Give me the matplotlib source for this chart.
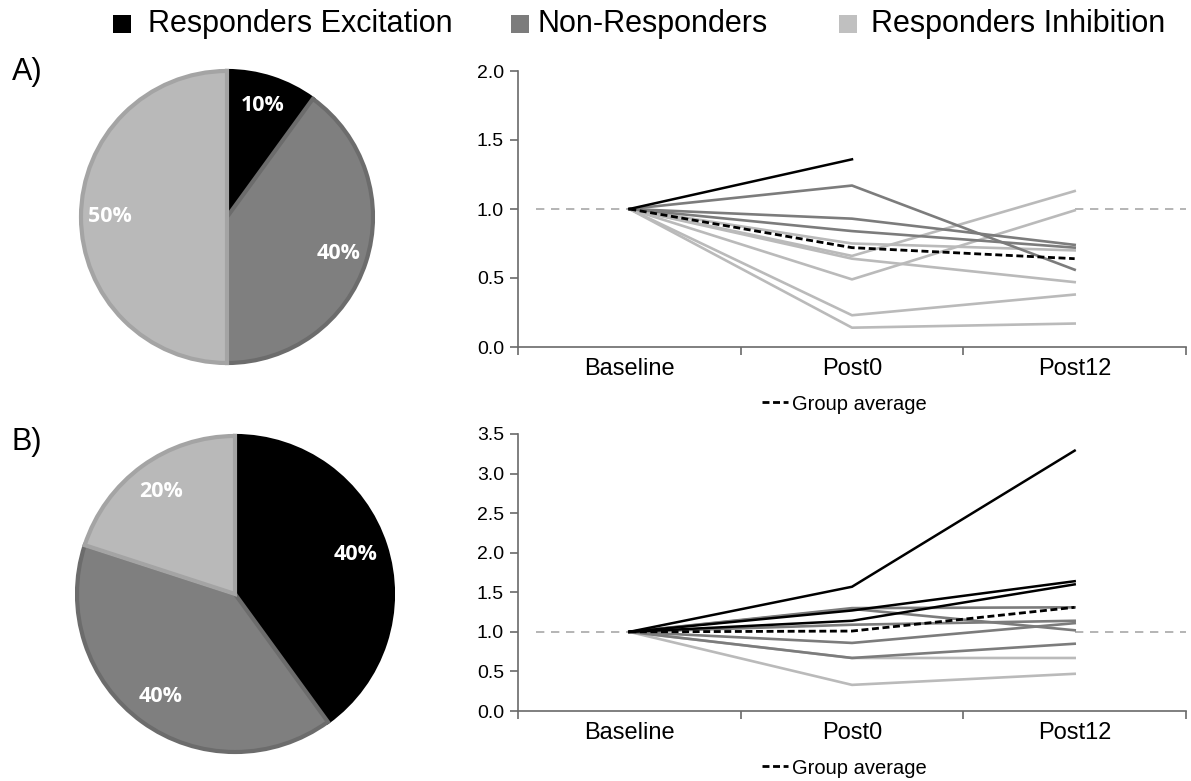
import numpy as np
import matplotlib
matplotlib.use("Agg")
import matplotlib.pyplot as plt
from matplotlib.patches import Rectangle
from matplotlib.lines import Line2D

# ---------------- data ----------------
groups = ["Responders Excitation", "Non-Responders", "Responders Inhibition"]
pie_a = [10, 40, 50]
pie_b = [40, 40, 20]
timepoints = ["Baseline", "Post0", "Post12"]

exc_a = [[1.0, 1.36, np.nan]]
non_a = [[1.0, 1.17, 0.56], [1.0, 0.93, 0.74], [1.0, 0.84, 0.72]]
inh_a = [[1.0, 0.75, 0.70], [1.0, 0.66, 1.13], [1.0, 0.64, 0.47],
         [1.0, 0.49, 0.99], [1.0, 0.23, 0.38], [1.0, 0.14, 0.17]]
avg_a = [1.0, 0.72, 0.64]

exc_b = [[1.0, 1.57, 3.29], [1.0, 1.27, 1.64], [1.0, 1.14, 1.60]]
non_b = [[1.0, 1.30, 1.31], [1.0, 1.29, 1.02], [1.0, 1.09, 1.14],
         [1.0, 0.86, 1.11], [1.0, 0.67, 0.85]]
inh_b = [[1.0, 0.67, 0.67], [1.0, 0.33, 0.47]]
avg_b = [1.0, 1.01, 1.31]

ref_level = 1.0
yticks_a = [0.0, 0.5, 1.0, 1.5, 2.0]
yticks_b = [0.0, 0.5, 1.0, 1.5, 2.0, 2.5, 3.0, 3.5]

# ---------------- style ----------------
W, H = 1191, 781
C_BLACK = "#000000"
C_DARK = "#7c7c7c"
C_LIGHT = "#bababa"
PIE_COLORS = ["#000000", "#7f7f7f", "#b9b9b9"]
PIE_EDGES = ["#000000", "#6c6c6c", "#a4a4a4"]
SPINE = "#6a6a6a"
SANS = "Liberation Sans"

fig = plt.figure(figsize=(W / 100, H / 100), dpi=100)
fig.patch.set_facecolor("white")


def fx(px):
    return px / W


def fy(py):
    return 1 - py / H


# ---------------- legend (top) ----------------
legend_items = [
    (113, 148, PIE_COLORS[0], groups[0]),
    (511, 538, C_DARK, groups[1]),
    (839, 871, "#c0c0c0", groups[2]),
]
for sq_x, tx, col, lab in legend_items:
    fig.patches.append(Rectangle((fx(sq_x), fy(33)), fx(18), 18 / H,
                                 transform=fig.transFigure, facecolor=col,
                                 edgecolor="none"))
    fig.text(fx(tx), fy(24), lab, fontsize=22, family=SANS,
             va="center", ha="left")

fig.text(fx(12), fy(72), "A)", fontsize=22, family=SANS, va="center", ha="left")
fig.text(fx(12), fy(442), "B)", fontsize=22, family=SANS, va="center", ha="left")


# ---------------- pies ----------------
def draw_pie(cx, cy, r, values):
    size = 2.5 * r
    ax = fig.add_axes([fx(cx - size / 2), fy(cy + size / 2), size / W, size / H])
    wedges, texts, autotexts = ax.pie(
        values, colors=PIE_COLORS, startangle=90, counterclock=False,
        autopct="%d%%", pctdistance=0.8,
        textprops=dict(color="white", fontsize=15.5, fontweight="bold",
                       family="Open Sans"))
    for w, ec in zip(wedges, PIE_EDGES):
        w.set_edgecolor(ec)
        w.set_linewidth(3)
    ax.set_xlim(-1.25, 1.25)
    ax.set_ylim(-1.25, 1.25)
    ax.set_aspect("equal")
    ax.axis("off")
    return ax


draw_pie(227, 217, 146, pie_a)
draw_pie(235, 594, 158, pie_b)


# ---------------- line charts ----------------
def draw_lines(top, bottom, exc, non, inh, avg, ymax, yticks):
    left, right = 518, 1186
    ax = fig.add_axes([fx(left), fy(bottom), (right - left) / W, (bottom - top) / H])
    x = np.arange(len(timepoints))
    # reference dashed line at 1.0 (outer parts only)
    ax.plot([-0.42, 0], [ref_level, ref_level], color="#a8a8a8", lw=1.2,
            dashes=(5, 4), zorder=1)
    ax.plot([2, 2.5], [ref_level, ref_level], color="#a8a8a8", lw=1.2,
            dashes=(5, 4), zorder=1)
    for s in inh:
        ax.plot(x, s, color=C_LIGHT, lw=1.9, zorder=2)
    for s in non:
        ax.plot(x, s, color=C_DARK, lw=1.9, zorder=3)
    for s in exc:
        ax.plot(x, s, color=C_BLACK, lw=1.8, zorder=4)
    avg_line, = ax.plot(x, avg, color="black", lw=2.0, dashes=(2.5, 1.3),
                        zorder=5, label="Group average")
    ax.set_xlim(-0.5, 2.5)
    ax.set_ylim(0, ymax)
    ax.set_yticks(yticks)
    ax.set_yticklabels([f"{v:.1f}" for v in yticks], fontsize=14, family=SANS)
    ax.set_xticks([-0.5, 0.5, 1.5, 2.5])
    ax.set_xticklabels([])
    ax.set_xticks(x, minor=True)
    ax.set_xticklabels(timepoints, minor=True, fontsize=17, family=SANS)
    ax.tick_params(axis="x", which="minor", length=0, pad=8)
    ax.tick_params(axis="x", which="major", length=6, direction="out",
                   color=SPINE, width=1.2)
    ax.tick_params(axis="y", length=6, direction="out", color=SPINE,
                   width=1.2, pad=4)
    for sp in ("top", "right"):
        ax.spines[sp].set_visible(False)
    for sp in ("left", "bottom"):
        ax.spines[sp].set_color(SPINE)
        ax.spines[sp].set_linewidth(1.2)
    ax.patch.set_alpha(0)
    ax.legend(handles=[avg_line], loc="center",
              bbox_to_anchor=(0.488, -57 / (bottom - top)),
              frameon=False, handlelength=1.3, handletextpad=0.2,
              prop=dict(family=SANS, size=14.5), borderpad=0)
    return ax


draw_lines(71, 347, exc_a, non_a, inh_a, avg_a, 2.0, yticks_a)
draw_lines(434, 711, exc_b, non_b, inh_b, avg_b, 3.5, yticks_b)

fig.savefig("out.png", dpi=100, facecolor="white")
